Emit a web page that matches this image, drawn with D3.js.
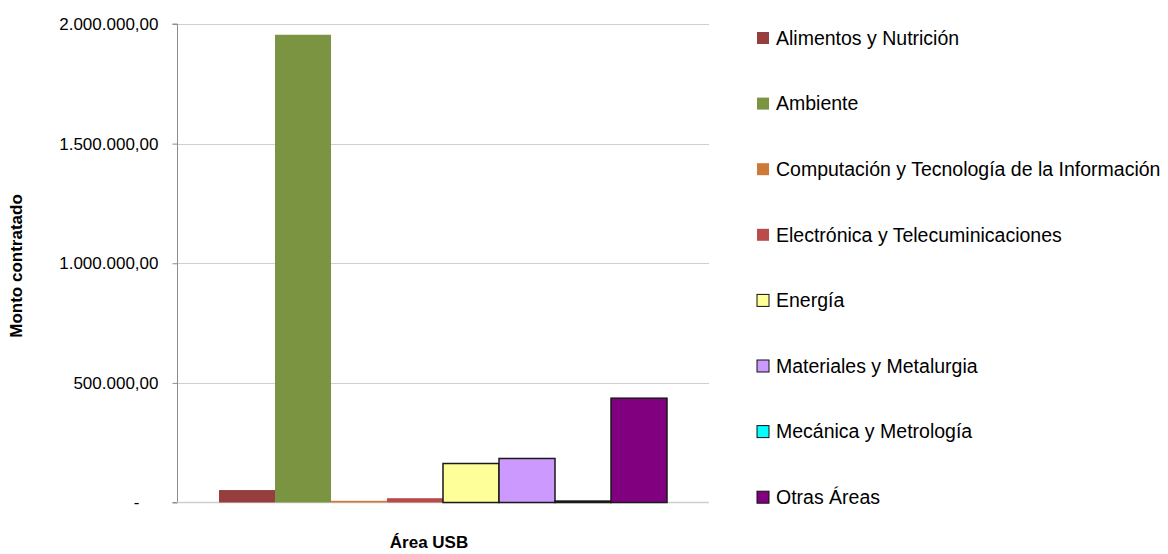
<!DOCTYPE html>
<html><head><meta charset="utf-8">
<script src="https://cdn.jsdelivr.net/npm/d3@7"></script>
<style>body{margin:0;background:#fff;} svg{display:block;font-family:"Liberation Sans",Arial,sans-serif;}</style>
</head><body><svg id="c" width="1168" height="554"></svg>
<script>
const categories = ["Alimentos y Nutrición","Ambiente","Computación y Tecnología de la Información","Electrónica y Telecuminicaciones","Energía","Materiales y Metalurgia","Mecánica y Metrología","Otras Áreas"];
const values = [52000, 1955000, 7000, 18000, 163000, 184000, 6000, 436000];
const colors = ["#963D3D","#7B9442","#CC7A3A","#BA4B4B","#FFFF99","#CC99FF","#00FFFF","#800080"];
const outlined = [false,false,false,false,true,true,true,true];
const yTicks = [0, 500000, 1000000, 1500000, 2000000];

const svg = d3.select("#c");
const L=177, R=709, T=24, B=502.5;
const y = d3.scaleLinear().domain([0,2000000]).range([B,T]);
const x = d3.scaleBand().domain(categories).range([219,667]).padding(0);

const fmt = v => v===0 ? "-" : d3.formatLocale({decimal:",",thousands:".",grouping:[3],currency:["",""]}).format(",.2f")(v);

// gridlines
svg.append("g").selectAll("line").data(yTicks.filter(d=>d>0)).join("line")
  .attr("x1",L).attr("x2",R).attr("y1",d=>Math.round(y(d))+0.5).attr("y2",d=>Math.round(y(d))+0.5)
  .attr("stroke","#cfcfcf").attr("stroke-width",1);

// axis
const ax = svg.append("g").attr("transform",`translate(${L+0.5},0)`)
  .call(d3.axisLeft(y).tickValues(yTicks).tickFormat(fmt).tickSize(5).tickPadding(14));
ax.select(".domain").attr("stroke","#8c8c8c").attr("d",`M-5,${y(2000000)}H0V${B}H-5`);
ax.selectAll(".tick line").attr("stroke","#8c8c8c");
ax.selectAll(".tick text").attr("font-size","17px").attr("fill","#000").attr("font-family","Liberation Sans, Arial, sans-serif");
ax.selectAll(".tick").filter(d=>d===0).select("text").attr("dx","-19");

// baseline
svg.append("line").attr("x1",L).attr("x2",R).attr("y1",B).attr("y2",B).attr("stroke","#cfcfcf").attr("stroke-width",1.5);

// bars
svg.append("g").selectAll("rect").data(categories).join("rect")
  .attr("x",(d)=>x(d)).attr("width",x.bandwidth())
  .attr("y",(d,i)=>y(values[i])).attr("height",(d,i)=>B-y(values[i]))
  .attr("fill",(d,i)=>colors[i])
  .attr("stroke",(d,i)=>outlined[i]?"#1a1a1a":"none").attr("stroke-width",1.5);

// axis titles
svg.append("text").attr("x",429).attr("y",548).attr("text-anchor","middle")
  .attr("font-size","17px").attr("font-weight","bold").text("Área USB");
svg.append("text").attr("transform","translate(22,266) rotate(-90)").attr("text-anchor","middle")
  .attr("font-size","17px").attr("font-weight","bold").text("Monto contratado");

// legend
const lg = svg.append("g").selectAll("g").data(categories).join("g")
  .attr("transform",(d,i)=>`translate(757,${38+i*65.6})`);
lg.append("rect").attr("x",0).attr("y",-6).attr("width",12).attr("height",12)
  .attr("fill",(d,i)=>colors[i]).attr("stroke",(d,i)=>outlined[i]?"#111":"none").attr("stroke-width",1);
lg.append("text").attr("x",19).attr("y",0).attr("dy","0.35em").attr("font-size","19.5px").text(d=>d);
</script></body></html>
